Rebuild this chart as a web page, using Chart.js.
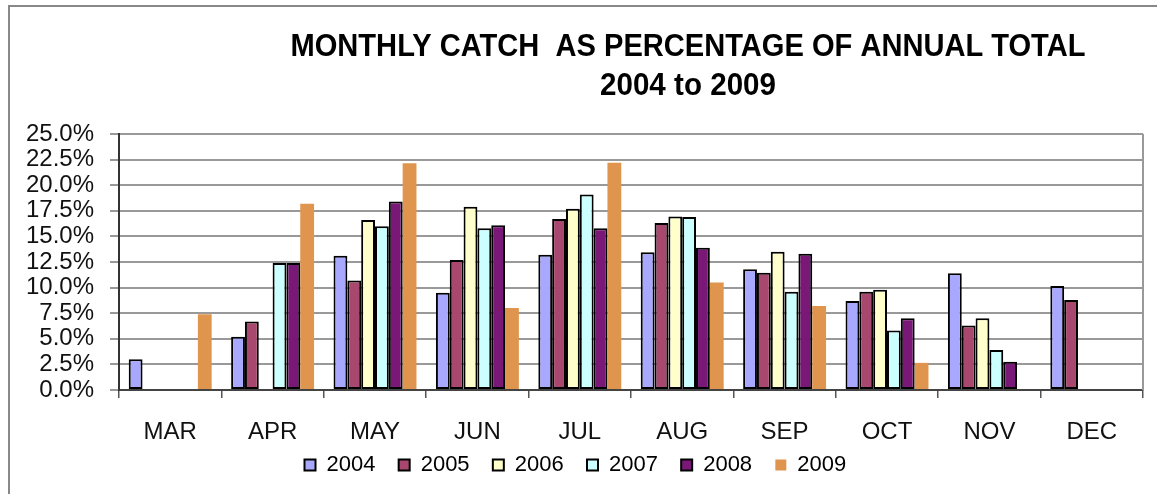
<!DOCTYPE html>
<html lang="en">
<head>
  <meta charset="UTF-8" />
  <title>Monthly catch as percentage of annual total</title>
  <script src="https://cdn.jsdelivr.net/npm/chart.js"></script>
  <style>
    body {
      margin: 0;
      background: #fff;
      font-family: 'Liberation Sans', Arial, sans-serif;
    }
    #wrap {
      width: 1157px;
      height: 494px;
    }
  </style>
</head>
<body>

<div id="wrap"><canvas id="catchChart" width="1157" height="494"></canvas></div>

<script>
  const months = ['MAR', 'APR', 'MAY', 'JUN', 'JUL', 'AUG', 'SEP', 'OCT', 'NOV', 'DEC'];
  const years = ['2004', '2005', '2006', '2007', '2008', '2009'];
  const y2004 = [3.0, 5.2, 13.1, 9.5, 13.2, 13.45, 11.8, 8.7, 11.4, 10.15];
  const y2005 = [null, 6.7, 10.7, 12.7, 16.7, 16.3, 11.45, 9.6, 6.3, 8.8];
  const y2006 = [null, null, 16.6, 17.9, 17.7, 16.95, 13.5, 9.8, 7.0, null];
  const y2007 = [null, 12.4, 16.0, 15.8, 19.1, 16.9, 9.6, 5.8, 3.9, null];
  const y2008 = [null, 12.4, 18.4, 16.1, 15.8, 13.9, 13.3, 7.0, 2.75, null];
  const y2009 = [7.4, 18.2, 22.15, 8.0, 22.2, 10.5, 8.2, 2.65, null, null];
  const titleLines = ['MONTHLY CATCH  AS PERCENTAGE OF ANNUAL TOTAL', '2004 to 2009'];

  const fills = ['#a8a8ff', '#a8486f', '#ffffcc', '#ccffff', '#7a1878', '#e0954e'];
  const series = [y2004, y2005, y2006, y2007, y2008, y2009];
  const font = "'Liberation Sans', Arial, sans-serif";

  // title + outer frame + right border of the plot
  const decor = {
    id: 'decor',
    afterDraw(chart) {
      const ctx = chart.ctx;
      const a = chart.chartArea;
      ctx.save();
      ctx.strokeStyle = '#888';
      ctx.lineWidth = 2;
      ctx.strokeRect(9, 6, 2000, 2000);
      ctx.strokeStyle = '#999';
      ctx.beginPath();
      ctx.moveTo(a.right, a.top);
      ctx.lineTo(a.right, a.bottom);
      ctx.stroke();
      ctx.fillStyle = '#000';
      ctx.textAlign = 'center';
      ctx.textBaseline = 'middle';
      ctx.font = 'bold 31px ' + font;
      ctx.fillText(titleLines[0], 688, 47, 795);
      ctx.fillText(titleLines[1], 688, 86, 176);
      ctx.restore();
    }
  };

  new Chart(document.getElementById('catchChart'), {
    type: 'bar',
    data: {
      labels: months,
      datasets: years.map((y, i) => ({
        label: y,
        data: series[i],
        backgroundColor: fills[i],
        borderColor: i === 5 ? fills[i] : '#000',
        borderWidth: i === 5 ? 0 : 2,
        borderSkipped: false,
        barPercentage: 1,
        categoryPercentage: 0.81
      }))
    },
    options: {
      responsive: false,
      animation: false,
      layout: { padding: { top: 134, left: 20, right: 14, bottom: 8 } },
      plugins: {
        title: { display: false },
        tooltip: { enabled: false },
        legend: {
          position: 'bottom',
          labels: {
            color: '#000',
            boxWidth: 11,
            boxHeight: 11,
            padding: 11,
            font: { family: font, size: 22 },
            // a little extra room after each year, like the original spacing
            generateLabels: chart => Chart.defaults.plugins.legend.labels.generateLabels(chart)
              .map(l => Object.assign(l, { text: l.text + '  ' }))
          }
        }
      },
      scales: {
        x: {
          grid: { display: true, drawOnChartArea: false, tickLength: 8, color: '#555', lineWidth: 1.5 },
          border: { color: '#444', width: 2 },
          ticks: {
            color: '#111',
            padding: 20,
            font: { family: font, size: 24 }
          },
          afterFit: s => { s.height = 53; }
        },
        y: {
          min: 0,
          max: 25,
          grid: { color: '#999', lineWidth: 2, tickLength: 9 },
          border: { color: '#333', width: 2 },
          ticks: {
            stepSize: 2.5,
            autoSkip: false,
            color: '#111',
            padding: 16,
            font: { family: font, size: 24 },
            callback: v => v.toFixed(1) + '%'
          },
          afterFit: s => { s.width = 99; }
        }
      }
    },
    plugins: [decor]
  });
</script>

</body>
</html>
